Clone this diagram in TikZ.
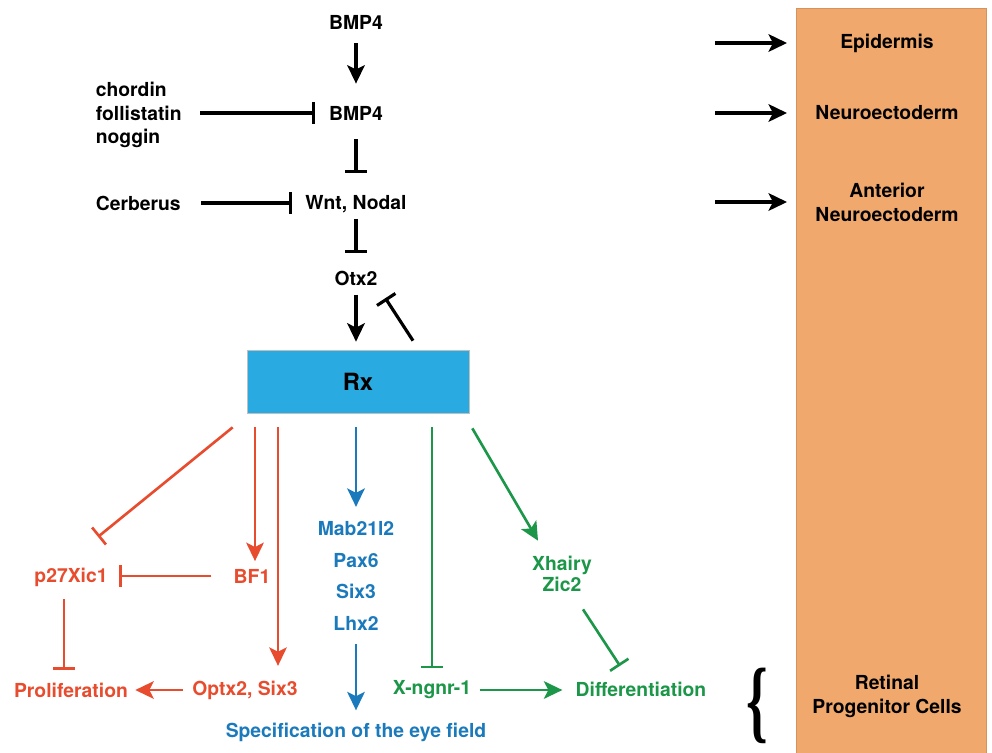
\documentclass[tikz,border=0pt]{standalone}
\usepackage{fontspec}
\setmainfont{TeX Gyre Heros}
\newfontfamily\bracefont{Liberation Serif}
\usetikzlibrary{arrows.meta, calc}
\definecolor{rxblue}{RGB}{41,171,226}
\definecolor{fatebg}{RGB}{240,168,108}
\definecolor{fateline}{RGB}{214,146,92}
\definecolor{pred}{RGB}{232,76,46}
\definecolor{pblue}{RGB}{27,122,188}
\definecolor{pgreen}{RGB}{28,150,72}

\begin{document}
\begin{tikzpicture}[x=0.02cm, y=-0.02cm,
  lbl/.style={font=\fontsize{11}{12}\selectfont\bfseries, inner sep=2pt, align=center},
  act/.style={line width=1.8pt, -{Stealth[length=10.5pt, width=10pt, inset=2.5pt]}},
  inh/.style={line width=1.8pt, -{Bar[width=12.5pt]}},
  lite/.style={line width=1.5pt}]
  \useasboundingbox (0,0) rectangle (992,752);

  \node[lbl] (bmpa) at (356,22) {BMP4};
  \node[lbl] (bmpb) at (356,113) {BMP4};
  \node[lbl] (wnt) at (356,204) {Wnt, Nodal};
  \node[lbl] (otx) at (356,278) {Otx2};
  \node[lbl, anchor=west, align=left, font=\fontsize{11}{13.4}\selectfont\bfseries] (chord) at (92,115) {chordin\\follistatin\\noggin};
  \node[lbl, anchor=west] (cerb) at (92,203) {Cerberus};
  \node[draw=gray!50, line width=0.4pt, fill=rxblue, minimum width=4.44cm, minimum height=1.26cm,
    font=\fontsize{13.5}{15}\selectfont\bfseries] (rx) at (358,381.5) {Rx};

  \node[lbl, pred] (p27) at (71,577) {p27Xic1};
  \node[lbl, pred] (bf1) at (252,576) {BF1};
  \node[lbl, pred] (prolif) at (71,690) {Proliferation};
  \node[lbl, pred] (optx) at (245,690) {Optx2, Six3};

  \node[lbl, pblue, font=\fontsize{11}{18.1}\selectfont\bfseries] (genes) at (356,576) {Mab21l2\\Pax6\\Six3\\Lhx2};
  \node[lbl, pblue] (spec) at (356,732) {Specification of the eye field};

  \node[lbl, pgreen] (xngnr) at (432,690) {X-ngnr-1};
  \node[lbl, pgreen, font=\fontsize{11}{10.4}\selectfont\bfseries] (xhairy) at (562,574) {Xhairy\\Zic2};
  \node[lbl, pgreen] (diff) at (641,689) {Differentiation};

  \node[fill=fatebg, draw=fateline, line width=0.4pt, minimum width=3.8cm, minimum height=15cm,
    anchor=north west, inner sep=0pt] (fate) at (796,8) {};
  \node[lbl] (epi) at (887,43) {Epidermis};
  \node[lbl] (neuro) at (887,113) {Neuroectoderm};
  \node[lbl, font=\fontsize{11}{13.6}\selectfont\bfseries] (ant) at (887,202) {Anterior\\Neuroectoderm};
  \node[lbl, font=\fontsize{11}{13.6}\selectfont\bfseries] (ret) at (887,696) {Retinal\\Progenitor Cells};
  \node[inner sep=0pt] (brc) at (757,706) {\scalebox{0.6}[1]{\bracefont\bfseries\fontsize{52}{52}\selectfont\{}};
  \coordinate (src) at (715,0);

  \draw[act, shorten <=0.21cm, shorten >=0.37cm] (bmpa) -- (bmpb);
  \draw[inh, shorten <=0.31cm, shorten >=0.36cm] (bmpb) -- (wnt);
  \draw[inh, shorten <=0.04cm, shorten >=0.27cm] (wnt) -- (otx);
  \draw[act, shorten <=0.11cm, shorten >=0.16cm] (otx) -- (otx |- rx.north);
  \draw[inh] ([shift={(55,-9)}]rx.north) -- ([shift={(4,9)}]otx.south east);
  \draw[inh, shorten <=0.29cm, shorten >=0.21cm] (chord.east |- bmpb) -- (bmpb.west);
  \draw[inh, shorten <=0.33cm, shorten >=0.19cm] (cerb) -- (cerb -| wnt.west);

  \draw[inh, lite, pred] ([shift={(-14,14)}]rx.south west) -- ([shift={(27,-27)}]p27.north);
  \draw[act, lite, pred] ([shift={(-103,14)}]rx.south) -- ([shift={(3,-4)}]bf1.north);
  \draw[act, lite, pred] ([shift={(-80,14)}]rx.south) -- ([shift={(33,-11)}]optx.north);
  \draw[inh, lite, pred, shorten <=0.37cm, shorten >=0.15cm] (bf1) -- (bf1 -| p27.east);
  \draw[inh, lite, pred, shorten <=0.18cm, shorten >=0.18cm] ([shift={(-7,0)}]p27.south) -- ([shift={(-7,0)}]prolif.north);
  \draw[act, lite, pred, shorten <=0.11cm, shorten >=0.07cm] (optx) -- (optx -| prolif.east);

  \draw[act, lite, pblue, shorten <=0.28cm, shorten >=0.21cm] (genes |- rx.south) -- (genes.north);
  \draw[act, lite, pblue, shorten <=0.19cm, shorten >=0.17cm] (genes.south) -- (spec.north);

  \draw[inh, lite, pgreen, shorten <=0.28cm, shorten >=0.175cm] (xngnr |- rx.south) -- (xngnr.north);
  \draw[act, lite, pgreen] ([shift={(3,15)}]rx.south east) -- ([shift={(-24,-12)}]xhairy.north);
  \draw[inh, lite, pgreen] ([shift={(21,14)}]xhairy.south) -- ([shift={(-21,-12)}]diff.north);
  \draw[act, lite, pgreen, shorten <=0.09cm, shorten >=0.19cm] (xngnr) -- (xngnr -| diff.west);

  \foreach \t in {epi, neuro, ant}
    \draw[act, shorten >=0.18cm] (src |- \t) -- (fate.west |- \t);
\end{tikzpicture}
\end{document}
